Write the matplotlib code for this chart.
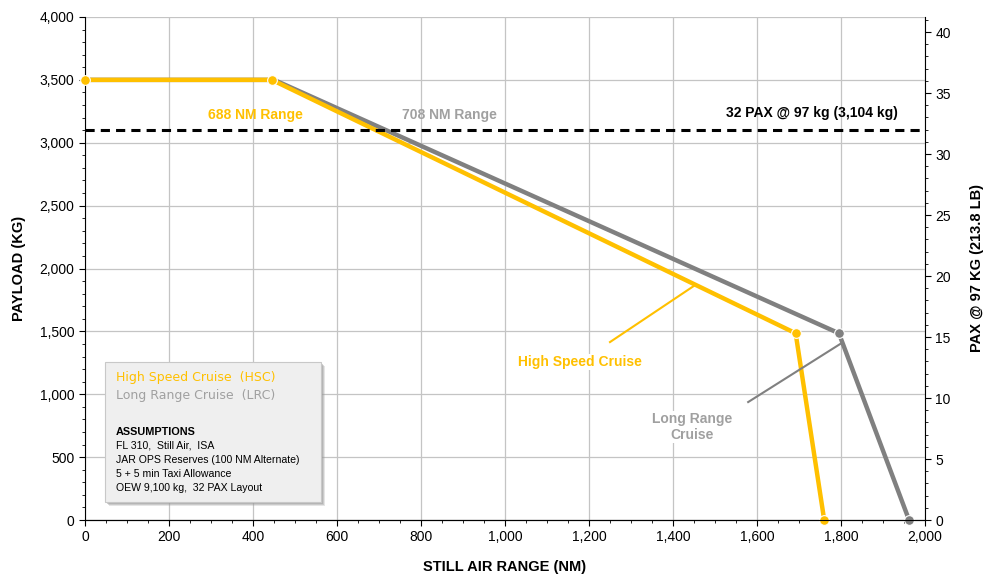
import matplotlib.pyplot as plt
from matplotlib.patches import Rectangle
from matplotlib.ticker import MultipleLocator, FuncFormatter

plt.rcParams['font.family'] = ['Liberation Sans', 'DejaVu Sans']

# payload-range points (NM, kg)
hsc_range = [0, 445, 1692, 1760]
hsc_payload = [3500, 3500, 1485, 0]
lrc_range = [0, 450, 1795, 1962]
lrc_payload = [3500, 3500, 1485, 0]
pax_payload = 3104
pax_mass = 97

yellow = '#FFC000'
grey = '#808080'

fig = plt.figure(figsize=(9.87, 5.76), dpi=100)
ax = fig.add_axes([85/987, 56/576, 840/987, 503/576])

ax.plot(lrc_range, lrc_payload, color=grey, lw=3.2, zorder=3, clip_on=False,
        marker='o', ms=7, mfc=grey, mec='white', mew=0.8, markevery=[2, 3])
ax.plot(hsc_range, hsc_payload, color=yellow, lw=3.2, zorder=4, clip_on=False,
        marker='o', ms=7, mfc=yellow, mec='white', mew=0.8)
ax.axhline(pax_payload, color='black', ls=(0, (3, 2)), lw=2.2, zorder=5)

ax.set_xlim(0, 2000)
ax.set_ylim(0, 4000)
ax.xaxis.set_major_locator(MultipleLocator(200))
ax.xaxis.set_minor_locator(MultipleLocator(50))
ax.yaxis.set_major_locator(MultipleLocator(500))
ax.yaxis.set_minor_locator(MultipleLocator(100))
fmt = FuncFormatter(lambda v, p: f'{v:,.0f}')
ax.xaxis.set_major_formatter(fmt)
ax.yaxis.set_major_formatter(fmt)
ax.grid(True, which='major', color='#c4c4c4', lw=0.9)
ax.set_axisbelow(True)
ax.tick_params(which='both', direction='out', labelsize=10)
ax.tick_params(which='major', length=4)
ax.tick_params(which='minor', length=2.5)
ax.spines['top'].set_visible(False)
ax.spines['right'].set_visible(False)

ax2 = ax.twinx()
ax2.set_ylim(0, 4000 / pax_mass)
ax2.yaxis.set_major_locator(MultipleLocator(5))
ax2.yaxis.set_minor_locator(MultipleLocator(1))
ax2.tick_params(which='both', direction='out', labelsize=10)
ax2.tick_params(which='major', length=4)
ax2.tick_params(which='minor', length=2.5)
ax2.spines['top'].set_visible(False)
ax2.spines['left'].set_visible(False)

ax.set_xlabel('STILL AIR RANGE (NM)', fontsize=10.5, fontweight='bold', labelpad=11)
ax.set_ylabel('PAYLOAD (KG)', fontsize=10.5, fontweight='bold', labelpad=10)
ax2.set_ylabel('PAX @ 97 KG (213.8 LB)', fontsize=10.5, fontweight='bold', labelpad=14)

ax.text(405, 3221, '688 NM Range', color=yellow, fontsize=10, fontweight='bold',
        ha='center', va='center', zorder=6)
ax.text(867, 3221, '708 NM Range', color='#a0a0a0', fontsize=10, fontweight='bold',
        ha='center', va='center', zorder=6)
ax.text(1935, 3235, '32 PAX @ 97 kg (3,104 kg)', color='black', fontsize=10,
        fontweight='bold', ha='right', va='center', zorder=6)

ax.plot([1250, 1450], [1415, 1862], color=yellow, lw=1.5, zorder=6)
ax.text(1179, 1256, 'High Speed Cruise', color=yellow, fontsize=10, fontweight='bold',
        ha='center', va='center', zorder=6,
        bbox=dict(fc='white', ec='none', pad=1))
ax.plot([1579, 1802], [938, 1408], color=grey, lw=1.5, zorder=6)
ax.text(1445, 740, 'Long Range\nCruise', color='#a0a0a0', fontsize=10, fontweight='bold',
        ha='center', va='center', zorder=6, linespacing=1.15,
        bbox=dict(fc='white', ec='none', pad=1))

# legend / assumptions box
W, H = 987, 576
bx, by, bw, bh = 105, 362, 216, 140
for k, a in [(4, 0.25), (3, 0.35), (2, 0.45)]:
    fig.patches.append(Rectangle(((bx + k) / W, 1 - (by + bh + k) / H), bw / W, bh / H,
                                 transform=fig.transFigure, fc='#9a9a9a', ec='none',
                                 alpha=a, zorder=10))
fig.patches.append(Rectangle((bx / W, 1 - (by + bh) / H), bw / W, bh / H,
                             transform=fig.transFigure, fc='#efefef', ec='#c8c8c8',
                             lw=0.8, zorder=11))
tx = 116 / W
fig.text(tx, 1 - 377 / H, 'High Speed Cruise  (HSC)', color=yellow, fontsize=9,
         va='center', zorder=12, family=['DejaVu Sans'])
fig.text(tx, 1 - 396 / H, 'Long Range Cruise  (LRC)', color='#a0a0a0', fontsize=9,
         va='center', zorder=12, family=['DejaVu Sans'])
fig.text(tx, 1 - 432 / H, 'ASSUMPTIONS', color='black', fontsize=7.8,
         fontweight='bold', va='center', zorder=12)
assumptions = ['FL 310,  Still Air,  ISA',
               'JAR OPS Reserves (100 NM Alternate)',
               '5 + 5 min Taxi Allowance',
               'OEW 9,100 kg,  32 PAX Layout']
for i, line in enumerate(assumptions):
    fig.text(tx, 1 - (446 + 14 * i) / H, line, color='black', fontsize=7.6,
             va='center', zorder=12)

fig.savefig('out.png', dpi=100)
